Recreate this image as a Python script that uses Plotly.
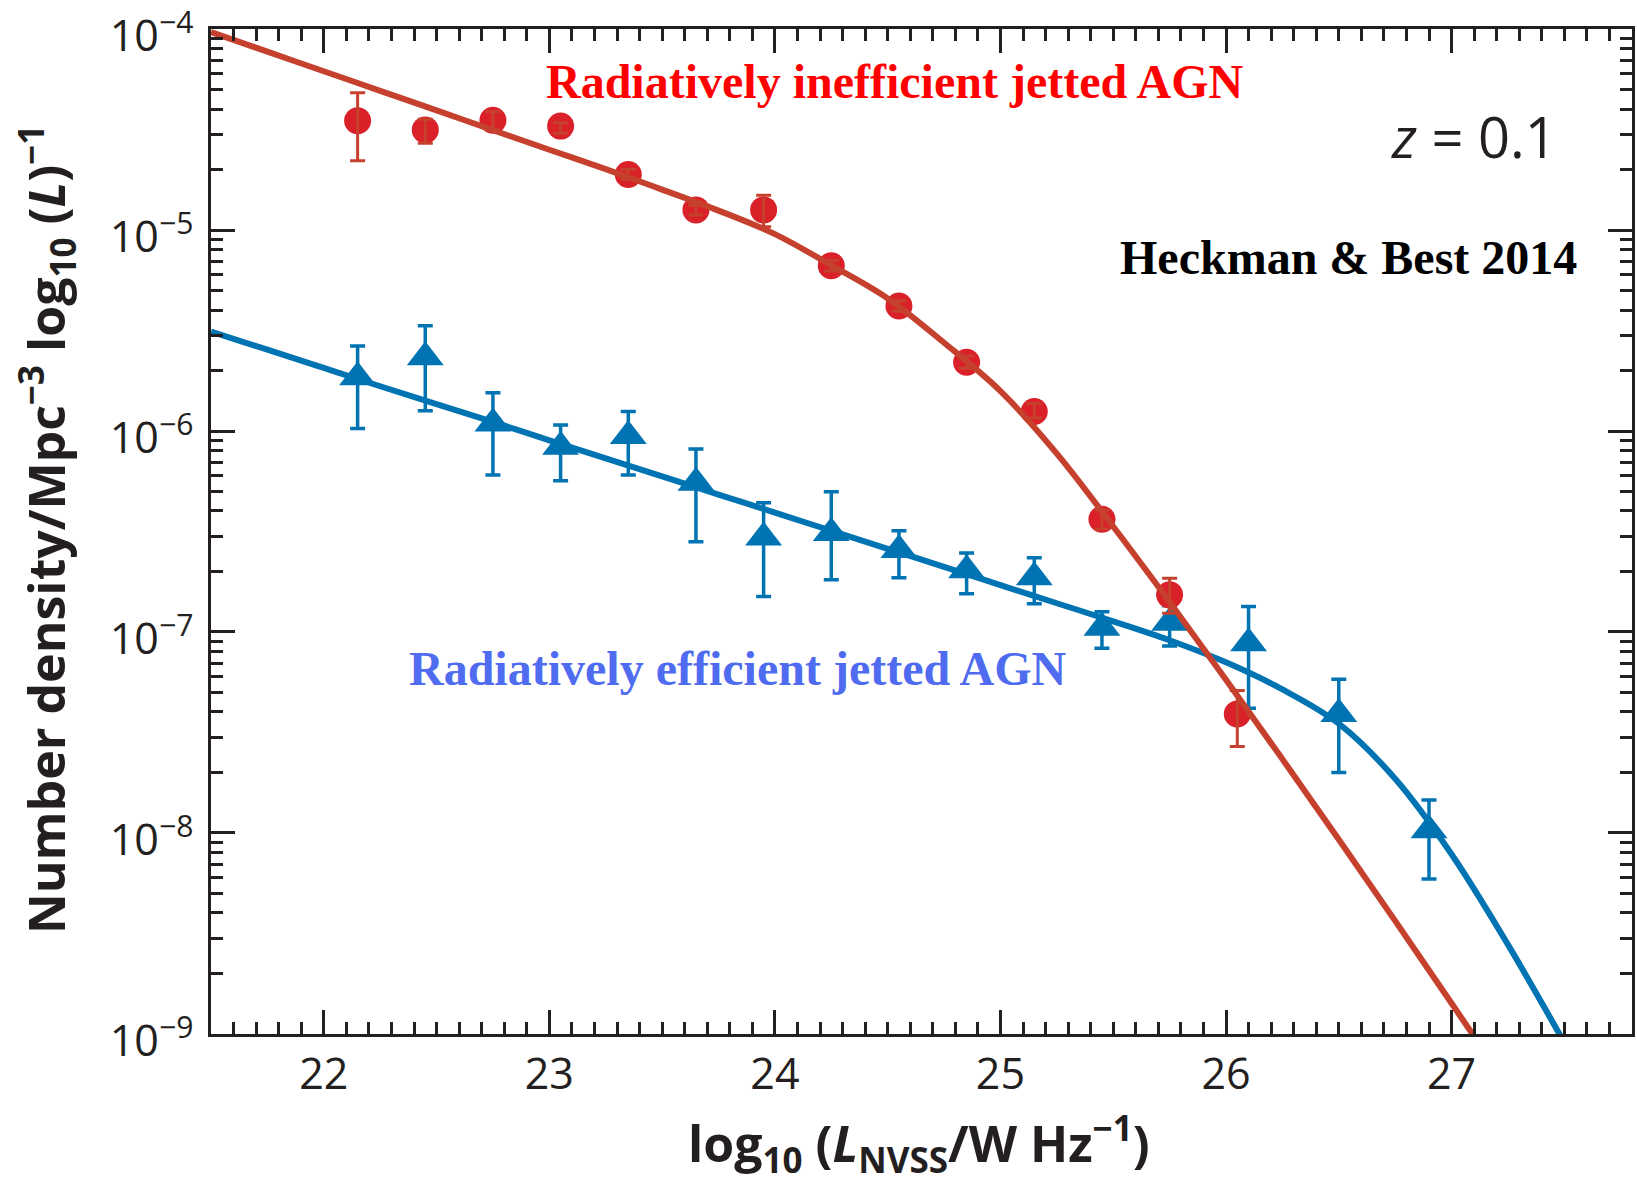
import plotly.graph_objects as go

# ---- measured luminosity functions (z = 0.1) ----
# Radiatively inefficient (LERG) jetted AGN
lerg_logL = [22.15, 22.45, 22.75, 23.05, 23.35, 23.65, 23.95,
             24.25, 24.55, 24.85, 25.15, 25.45, 25.75, 26.05]
lerg_rho = [3.50e-5, 3.15e-5, 3.52e-5, 3.29e-5, 1.89e-5, 1.26e-5, 1.26e-5,
            6.64e-6, 4.19e-6, 2.20e-6, 1.25e-6, 3.64e-7, 1.53e-7, 3.91e-8]
lerg_hi = [4.82e-5, 3.56e-5, 3.88e-5, 3.42e-5, 2.00e-5, 1.33e-5, 1.49e-5,
           7.05e-6, 4.45e-6, 2.36e-6, 1.37e-6, 4.05e-7, 1.85e-7, 5.11e-8]
lerg_lo = [2.21e-5, 2.70e-5, 3.15e-5, 3.03e-5, 1.79e-5, 1.19e-5, 1.04e-5,
           6.25e-6, 3.95e-6, 2.05e-6, 1.16e-6, 3.25e-7, 1.24e-7, 2.69e-8]

# Radiatively efficient (HERG) jetted AGN
herg_logL = [22.15, 22.45, 22.75, 23.05, 23.35, 23.65, 23.95, 24.25,
             24.55, 24.85, 25.15, 25.45, 25.75, 26.10, 26.50, 26.90]
herg_rho = [1.85e-6, 2.33e-6, 1.09e-6, 8.36e-7, 9.44e-7, 5.53e-7, 2.95e-7, 3.11e-7,
            2.56e-7, 2.03e-7, 1.87e-7, 1.05e-7, 1.11e-7, 8.79e-8, 3.91e-8, 1.03e-8]
herg_hi = [2.65e-6, 3.34e-6, 1.55e-6, 1.07e-6, 1.25e-6, 8.13e-7, 4.39e-7, 4.99e-7,
           3.19e-7, 2.47e-7, 2.34e-7, 1.26e-7, 1.35e-7, 1.34e-7, 5.82e-8, 1.46e-8]
herg_lo = [1.03e-6, 1.26e-6, 6.04e-7, 5.66e-7, 6.04e-7, 2.81e-7, 1.50e-7, 1.82e-7,
           1.86e-7, 1.55e-7, 1.38e-7, 8.30e-8, 8.51e-8, 4.17e-8, 2.00e-8, 5.90e-9]

# ---- fitted model curves ----
lerg_fit_logL = [21.50, 21.75, 22.00, 22.25, 22.50, 22.75, 23.00, 23.25, 23.50,
                 23.75, 24.00, 24.25, 24.50, 24.75, 25.00, 25.25, 25.50, 25.75,
                 26.00, 26.25, 26.50, 26.75, 27.00, 27.25]
lerg_fit = [9.66e-5, 7.72e-5, 6.17e-5, 4.93e-5, 3.94e-5, 3.14e-5, 2.51e-5, 2.01e-5,
            1.59e-5, 1.25e-5, 9.55e-6, 6.68e-6, 4.57e-6, 2.75e-6, 1.58e-6, 7.72e-7,
            3.35e-7, 1.41e-7, 5.79e-8, 2.33e-8, 9.28e-9, 3.65e-9, 1.42e-9, 5.50e-10]
herg_fit_logL = [21.50, 21.75, 22.00, 22.25, 22.50, 22.75, 23.00, 23.25, 23.50,
                 23.75, 24.00, 24.25, 24.50, 24.75, 25.00, 25.25, 25.50, 25.75,
                 26.00, 26.25, 26.50, 26.75, 27.00, 27.25, 27.50]
herg_fit = [3.12e-6, 2.54e-6, 2.06e-6, 1.67e-6, 1.36e-6, 1.11e-6, 8.99e-7, 7.31e-7,
            5.94e-7, 4.83e-7, 3.93e-7, 3.19e-7, 2.59e-7, 2.11e-7, 1.71e-7, 1.39e-7,
            1.13e-7, 9.10e-8, 7.06e-8, 5.18e-8, 3.50e-8, 1.86e-8, 7.83e-9, 2.78e-9,
            9.04e-10]

y_tickvals = [1e-9, 1e-8, 1e-7, 1e-6, 1e-5, 1e-4]
y_ticktext = ["10<sup>\u22129</sup>", "10<sup>\u22128</sup>", "10<sup>\u22127</sup>",
              "10<sup>\u22126</sup>", "10<sup>\u22125</sup>", "10<sup>\u22124</sup>"]
x_tickvals = [22, 23, 24, 25, 26, 27]

RED_PT = "#DA2129"
RED_LN = "#C6402E"
BLUE = "#0073B2"
INK = "#231F20"


def err_plus(v, hi):
    return [h - c for c, h in zip(v, hi)]


def err_minus(v, lo):
    return [c - l for c, l in zip(v, lo)]


fig = go.Figure()

# HERG points and their error bars
fig.add_trace(go.Scatter(
    x=herg_logL, y=herg_rho, mode="markers",
    marker=dict(symbol="triangle-up", size=32, color=BLUE, line=dict(width=0)),
    showlegend=False))
fig.add_trace(go.Scatter(
    x=herg_logL, y=herg_rho, mode="markers",
    marker=dict(size=1, color="rgba(0,0,0,0)"),
    error_y=dict(type="data", symmetric=False,
                 array=err_plus(herg_rho, herg_hi),
                 arrayminus=err_minus(herg_rho, herg_lo),
                 color=BLUE, thickness=3.5, width=7.5),
    showlegend=False))

# LERG points and their error bars
fig.add_trace(go.Scatter(
    x=lerg_logL, y=lerg_rho, mode="markers",
    marker=dict(symbol="circle", size=27, color=RED_PT, line=dict(width=0)),
    showlegend=False))
fig.add_trace(go.Scatter(
    x=lerg_logL, y=lerg_rho, mode="markers",
    marker=dict(size=1, color="rgba(0,0,0,0)"),
    error_y=dict(type="data", symmetric=False,
                 array=err_plus(lerg_rho, lerg_hi),
                 arrayminus=err_minus(lerg_rho, lerg_lo),
                 color=RED_LN, thickness=3, width=7.5),
    showlegend=False))

# model fits
fig.add_trace(go.Scatter(
    x=herg_fit_logL, y=herg_fit, mode="lines",
    line=dict(color=BLUE, width=6, shape="spline", smoothing=1.0),
    showlegend=False))
fig.add_trace(go.Scatter(
    x=lerg_fit_logL, y=lerg_fit, mode="lines",
    line=dict(color=RED_LN, width=6, shape="spline", smoothing=1.0),
    showlegend=False))

tick_font = dict(family="Open Sans", size=43, color=INK)

fig.update_xaxes(
    range=[21.5, 27.8], tickmode="array", tickvals=x_tickvals,
    ticks="inside", ticklen=24, tickwidth=3, tickcolor=INK,
    showline=True, linewidth=3, linecolor=INK, mirror="allticks",
    showgrid=False, zeroline=False, tickfont=tick_font,
    ticklabelstandoff=0, ticklabeloverflow="allow", automargin=False,
    minor=dict(dtick=0.1, ticks="inside", ticklen=12, tickwidth=3,
               tickcolor=INK, showgrid=False))
fig.update_yaxes(
    type="log", range=[-9.0005, -3.9995], tickmode="array",
    tickvals=y_tickvals, ticktext=y_ticktext,
    ticks="inside", ticklen=24, tickwidth=3, tickcolor=INK,
    showline=True, linewidth=3, linecolor=INK, mirror="allticks",
    showgrid=False, zeroline=False, tickfont=tick_font,
    ticklabelstandoff=6, ticklabelshift=7, ticklabeloverflow="allow",
    automargin=False,
    minor=dict(dtick="D1", ticks="inside", ticklen=12, tickwidth=3,
               tickcolor=INK, showgrid=False))

serif_bold = "Liberation Serif"

fig.add_annotation(
    text="<b>Radiatively inefficient jetted AGN</b>", xref="paper", yref="paper",
    x=0.4813, y=0.9473, xanchor="center", yanchor="middle", showarrow=False,
    font=dict(family=serif_bold, size=48, color="#FF0000"))
fig.add_annotation(
    text="<b>Radiatively efficient jetted AGN</b>", xref="paper", yref="paper",
    x=0.3709, y=0.3632, xanchor="center", yanchor="middle", showarrow=False,
    font=dict(family=serif_bold, size=48, color="#4F6BF0"))
fig.add_annotation(
    text="<b>Heckman &amp; Best 2014</b>", xref="paper", yref="paper",
    x=0.8008, y=0.7731, xanchor="center", yanchor="middle", showarrow=False,
    font=dict(family=serif_bold, size=48, color="#000000"))
fig.add_annotation(
    text="<i>z</i> = 0.1", xref="paper", yref="paper",
    x=0.8885, y=0.8935, xanchor="center", yanchor="middle", showarrow=False,
    font=dict(family="Open Sans", size=56, color=INK))

# axis titles
fig.add_annotation(
    text="<b>log<sub>10</sub> (<i>L</i><sub>NVSS</sub>/W Hz<sup>\u22121</sup>)</b>",
    xref="paper", yref="paper", x=0.498, y=-0.109,
    xanchor="center", yanchor="middle", showarrow=False,
    font=dict(family="Open Sans", size=50, color=INK))
fig.add_annotation(
    text="<b>Number density/Mpc<sup>\u22123</sup> log<sub>10</sub> (<i>L</i>)<sup>\u22121</sup></b>",
    xref="paper", yref="paper", x=-0.1154, y=0.5015, textangle=-90,
    xanchor="center", yanchor="middle", showarrow=False,
    font=dict(family="Open Sans", size=50, color=INK))

fig.update_layout(
    width=1637, height=1183,
    margin=dict(l=211, r=5, t=29, b=149, autoexpand=False),
    paper_bgcolor="white", plot_bgcolor="white",
)

fig.write_html("out.html")
